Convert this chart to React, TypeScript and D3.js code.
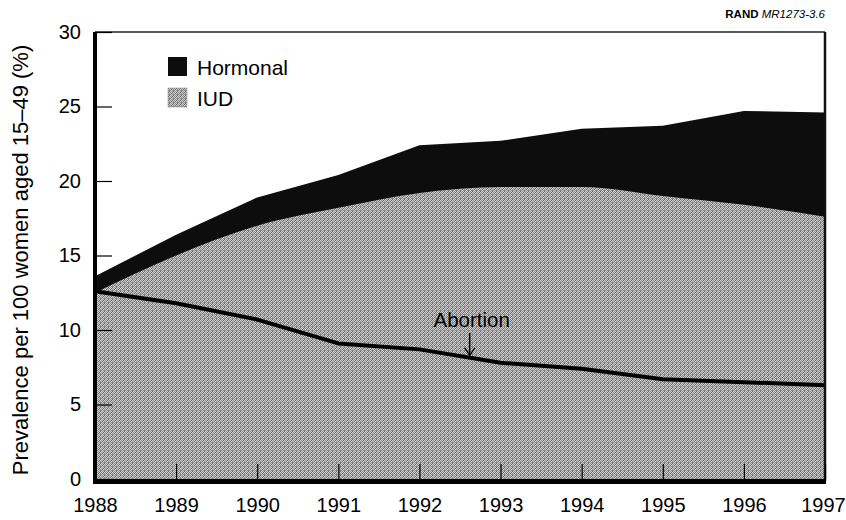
import { useEffect, useRef } from "react";
import * as d3 from "d3";

// data
const years = [1988, 1989, 1990, 1991, 1992, 1993, 1994, 1995, 1996, 1997];
const iudTop = [12.5, 15.0, 17.0, 18.2, 19.2, 19.6, 19.6, 19.0, 18.4, 17.6];
const hormonalTop = [13.6, 16.4, 18.9, 20.4, 22.4, 22.7, 23.5, 23.7, 24.7, 24.6];
const abortion = [12.6, 11.8, 10.7, 9.1, 8.7, 7.8, 7.4, 6.7, 6.5, 6.3];
const yTicks = [0, 5, 10, 15, 20, 25, 30];
const legendItems = ["Hormonal", "IUD"];

const FONT = "'Liberation Sans', Arial, Helvetica, sans-serif";

function App() {
    const svgRef = useRef<SVGSVGElement>(null);
    const width = 846;
    const height = 520;

    useEffect(() => {
        const svg = d3.select(svgRef.current);
        svg.selectAll("*").remove();

        const margin = { top: 32, right: 21, bottom: 41, left: 95 };
        const innerWidth = width - margin.left - margin.right;
        const innerHeight = height - margin.top - margin.bottom;

        // dither pattern for the IUD area
        const defs = svg.append("defs");
        const pat = defs
            .append("pattern")
            .attr("id", "dither")
            .attr("patternUnits", "userSpaceOnUse")
            .attr("width", 4)
            .attr("height", 4);
        pat.append("rect").attr("width", 4).attr("height", 4).attr("fill", "#d0d0d0");
        [[0, 0], [2, 0], [1, 1], [3, 1], [0, 2], [2, 2], [1, 3], [3, 3], [1, 2]].forEach(
            ([px, py], i) => {
                pat.append("rect")
                    .attr("x", px)
                    .attr("y", py)
                    .attr("width", 1)
                    .attr("height", 1)
                    .attr("fill", i % 3 === 0 ? "#666" : "#8a8a8a");
            }
        );

        const g = svg
            .append("g")
            .attr("transform", `translate(${margin.left},${margin.top})`);

        const x = d3.scaleLinear().domain([1988, 1997]).range([0, innerWidth]);
        const y = d3.scaleLinear().domain([0, 30]).range([innerHeight, 0]);

        const rows = years.map((yr, i) => ({
            year: yr,
            iud: iudTop[i],
            hormonal: hormonalTop[i],
            abortion: abortion[i],
        }));

        // hormonal area (black) behind the iud area
        const hormonalArea = d3
            .area<any>()
            .x(d => x(d.year))
            .y0(y(0))
            .y1(d => y(d.hormonal));
        g.append("path").datum(rows).attr("d", hormonalArea).attr("fill", "#0d0d0d");

        const iudArea = d3
            .area<any>()
            .x(d => x(d.year))
            .y0(y(0))
            .y1(d => y(d.iud))
            .curve(d3.curveMonotoneX);
        g.append("path").datum(rows).attr("d", iudArea).attr("fill", "url(#dither)");

        // abortion line
        const line = d3
            .line<any>()
            .x(d => x(d.year))
            .y(d => y(d.abortion));
        g.append("path")
            .datum(rows)
            .attr("d", line)
            .attr("fill", "none")
            .attr("stroke", "#000")
            .attr("stroke-width", 4)
            .attr("stroke-linejoin", "round");

        // frame: thin top/right, thick left/bottom
        g.append("line")
            .attr("x1", 0).attr("x2", innerWidth)
            .attr("y1", 0).attr("y2", 0)
            .attr("stroke", "#222").attr("stroke-width", 1.5);
        g.append("line")
            .attr("x1", innerWidth).attr("x2", innerWidth)
            .attr("y1", 0).attr("y2", innerHeight + 2)
            .attr("stroke", "#111").attr("stroke-width", 2.5);

        // y axis with inward ticks
        const yAxis = d3.axisLeft(y).tickValues(yTicks).tickSize(-17).tickPadding(14);
        const yG = g.append("g").call(yAxis);
        yG.select(".domain").remove();
        yG.selectAll(".tick line").attr("stroke", "#000").attr("stroke-width", 1.2);
        yG.selectAll(".tick text")
            .attr("fill", "#000")
            .style("font-family", FONT)
            .style("font-size", "20px");

        // x axis with inward ticks
        const xAxis = d3.axisBottom(x).tickValues(years).tickFormat(d3.format("d")).tickSize(-15).tickPadding(19);
        const xG = g.append("g").attr("transform", `translate(0,${innerHeight})`).call(xAxis);
        xG.select(".domain").remove();
        xG.selectAll(".tick line").attr("stroke", "#000").attr("stroke-width", 1.2);
        xG.selectAll(".tick text")
            .attr("fill", "#000")
            .attr("dx", (d: any) => (d === 1997 ? -2 : 0))
            .style("font-family", FONT)
            .style("font-size", "20px");

        // thick axis lines
        g.append("line")
            .attr("x1", 0).attr("x2", 0)
            .attr("y1", 0).attr("y2", innerHeight + 5)
            .attr("stroke", "#000").attr("stroke-width", 4);
        g.append("line")
            .attr("x1", -2).attr("x2", innerWidth + 1)
            .attr("y1", innerHeight + 2.5).attr("y2", innerHeight + 2.5)
            .attr("stroke", "#000").attr("stroke-width", 5);

        // y axis label
        svg.append("text")
            .attr("transform", `translate(20,${margin.top + 228}) rotate(-90)`)
            .attr("text-anchor", "middle")
            .attr("dy", "0.35em")
            .style("font-family", FONT)
            .style("font-size", "22px")
            .attr("fill", "#000")
            .text("Prevalence per 100 women aged 15\u201349 (%)");

        // legend
        const legend = g.append("g").attr("transform", "translate(73,25)");
        const li = legend
            .selectAll(".li")
            .data(legendItems)
            .enter()
            .append("g")
            .attr("transform", (d, i) => `translate(0,${i * 31})`);
        li.append("rect")
            .attr("width", 19)
            .attr("height", 19)
            .attr("fill", (d, i) => (i === 0 ? "#0d0d0d" : "url(#dither)"))
            .attr("stroke", (d, i) => (i === 0 ? "none" : "#888"))
            .attr("stroke-width", 0.5);
        li.append("text")
            .attr("x", 29)
            .attr("y", 10)
            .attr("dy", "0.36em")
            .style("font-family", FONT)
            .style("font-size", "21px")
            .attr("fill", "#000")
            .text(d => d);

        // abortion annotation
        const ax = x(1992.62);
        g.append("text")
            .attr("x", ax + 2)
            .attr("y", 327 - margin.top)
            .attr("text-anchor", "middle")
            .style("font-family", FONT)
            .style("font-size", "20.5px")
            .attr("fill", "#000")
            .text("Abortion");
        g.append("line")
            .attr("x1", ax).attr("x2", ax)
            .attr("y1", y(9.8)).attr("y2", y(8.35))
            .attr("stroke", "#000").attr("stroke-width", 1.4);
        g.append("path")
            .attr("d", `M${ax - 5},${y(8.8)} L${ax},${y(8.3)} L${ax + 5},${y(8.8)}`)
            .attr("fill", "none")
            .attr("stroke", "#000")
            .attr("stroke-width", 1.4);

        // source tag
        const tag = svg.append("text")
            .attr("x", margin.left + innerWidth)
            .attr("y", 18)
            .attr("text-anchor", "end")
            .style("font-family", FONT)
            .style("font-size", "11.5px")
            .attr("fill", "#000");
        tag.append("tspan").style("font-weight", "bold").text("RAND ");
        tag.append("tspan").style("font-style", "italic").text("MR1273-3.6");
    }, []);

    return (
        <svg
            ref={svgRef}
            width={width}
            height={height}
            style={{ display: "block", position: "absolute", left: 0, top: 0 }}
        />
    );
}

export default App;
